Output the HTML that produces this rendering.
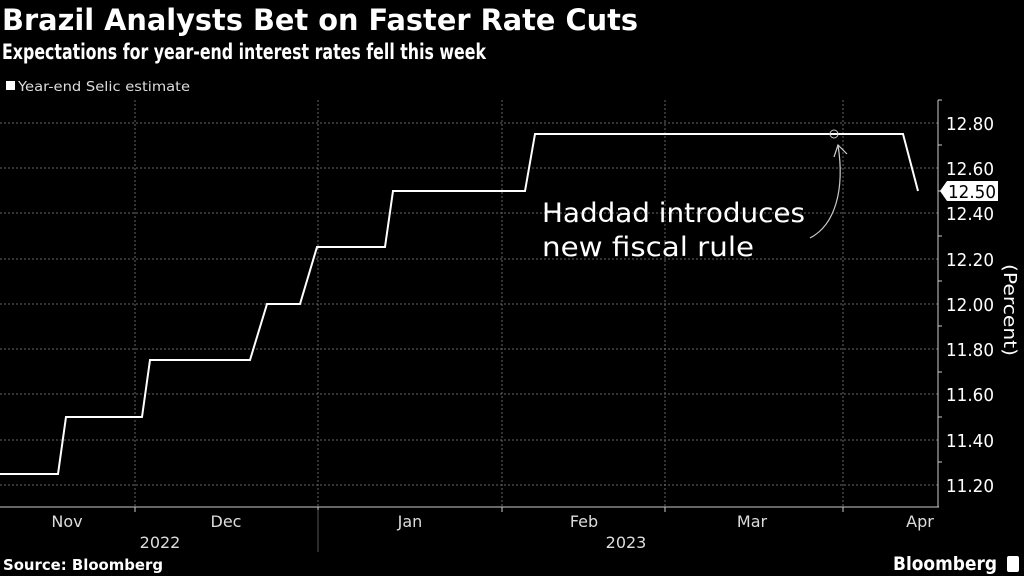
<!DOCTYPE html>
<html><head><style>
body{margin:0;background:#000;width:1024px;height:576px;overflow:hidden;font-family:"DejaVu Sans Condensed","DejaVu Sans","Liberation Sans",sans-serif;color:#fff}
</style></head><body>
<svg width="1024" height="576" xmlns="http://www.w3.org/2000/svg" style="position:absolute;left:0;top:0">
<text x="2" y="30" font-size="29" font-weight="bold" fill="#fff" font-family="DejaVu Sans, sans-serif" textLength="636" lengthAdjust="spacingAndGlyphs">Brazil Analysts Bet on Faster Rate Cuts</text>
<text x="2" y="59" font-size="21" font-weight="bold" fill="#fff" font-family="DejaVu Sans, sans-serif" textLength="484" lengthAdjust="spacingAndGlyphs">Expectations for year-end interest rates fell this week</text>
<rect x="6" y="81" width="9" height="9" fill="#fff"/>
<text x="18" y="91" font-size="13" fill="#ddd" font-family="DejaVu Sans, sans-serif" textLength="172" lengthAdjust="spacingAndGlyphs">Year-end Selic estimate</text>
<g stroke="#666" stroke-width="1" stroke-dasharray="2,2">
<line x1="0" y1="123" x2="938" y2="123"/><line x1="0" y1="168" x2="938" y2="168"/><line x1="0" y1="213" x2="938" y2="213"/><line x1="0" y1="259" x2="938" y2="259"/><line x1="0" y1="304" x2="938" y2="304"/><line x1="0" y1="349" x2="938" y2="349"/><line x1="0" y1="394" x2="938" y2="394"/><line x1="0" y1="440" x2="938" y2="440"/><line x1="0" y1="485" x2="938" y2="485"/>
<line x1="135" y1="100" x2="135" y2="507"/><line x1="318" y1="100" x2="318" y2="507"/><line x1="502" y1="100" x2="502" y2="507"/><line x1="665" y1="100" x2="665" y2="507"/><line x1="843" y1="100" x2="843" y2="507"/>
</g>
<line x1="0" y1="507" x2="939" y2="507" stroke="#ccc"/>
<line x1="938" y1="100" x2="938" y2="507" stroke="#ccc"/>
<line x1="938" y1="100" x2="942" y2="100" stroke="#ccc"/>
<g stroke="#ccc"><line x1="938" y1="145" x2="942" y2="145"/><line x1="938" y1="191" x2="942" y2="191"/><line x1="938" y1="236" x2="942" y2="236"/><line x1="938" y1="281" x2="942" y2="281"/><line x1="938" y1="326" x2="942" y2="326"/><line x1="938" y1="372" x2="942" y2="372"/><line x1="938" y1="417" x2="942" y2="417"/><line x1="938" y1="462" x2="942" y2="462"/>
<line x1="135" y1="507" x2="135" y2="512"/><line x1="318" y1="507" x2="318" y2="512"/><line x1="502" y1="507" x2="502" y2="512"/><line x1="665" y1="507" x2="665" y2="512"/><line x1="843" y1="507" x2="843" y2="512"/></g>
<g font-size="18" fill="#fff" font-family="DejaVu Sans, sans-serif">
<text x="946" y="130" textLength="48" lengthAdjust="spacingAndGlyphs">12.80</text><text x="946" y="175" textLength="48" lengthAdjust="spacingAndGlyphs">12.60</text><text x="946" y="220" textLength="48" lengthAdjust="spacingAndGlyphs">12.40</text><text x="946" y="266" textLength="48" lengthAdjust="spacingAndGlyphs">12.20</text><text x="946" y="311" textLength="48" lengthAdjust="spacingAndGlyphs">12.00</text><text x="946" y="356" textLength="48" lengthAdjust="spacingAndGlyphs">11.80</text><text x="946" y="401" textLength="48" lengthAdjust="spacingAndGlyphs">11.60</text><text x="946" y="447" textLength="48" lengthAdjust="spacingAndGlyphs">11.40</text><text x="946" y="492" textLength="48" lengthAdjust="spacingAndGlyphs">11.20</text>
</g>
<polygon points="940,191 947,181 998,181 998,201 947,201" fill="#fff"/>
<text x="948" y="198" font-size="18" fill="#000" font-family="DejaVu Sans, sans-serif" textLength="48" lengthAdjust="spacingAndGlyphs">12.50</text>
<text transform="translate(1004,310) rotate(90)" font-size="18" fill="#fff" text-anchor="middle" font-family="DejaVu Sans, sans-serif" textLength="92" lengthAdjust="spacingAndGlyphs">(Percent)</text>
<polyline fill="none" stroke="#fff" stroke-width="2" points="0,474 58,474 66,417 142,417 150,360 250,360 267,304 300,304 317,247 385,247 393,191 525,191 535,134 903,134 918,191"/>
<circle cx="834" cy="134" r="4" fill="none" stroke="#ccc"/>
<path d="M810,238 C835,225 845,190 838,145" fill="none" stroke="#ccc" stroke-width="1.2"/>
<path d="M834,157 L838,145 L847,154" fill="none" stroke="#ccc" stroke-width="1.2"/>
<text x="542" y="222" font-size="27" fill="#fff" font-family="DejaVu Sans, sans-serif" textLength="263" lengthAdjust="spacingAndGlyphs">Haddad introduces</text>
<text x="542" y="256" font-size="27" fill="#fff" font-family="DejaVu Sans, sans-serif" textLength="212" lengthAdjust="spacingAndGlyphs">new fiscal rule</text>
<g font-size="16" fill="#ddd" font-family="DejaVu Sans, sans-serif" text-anchor="middle">
<text x="67" y="527">Nov</text><text x="226" y="527">Dec</text><text x="410" y="527">Jan</text><text x="584" y="527">Feb</text><text x="752" y="527">Mar</text><text x="920" y="527">Apr</text>
<text x="160" y="548">2022</text><text x="626" y="548">2023</text>
</g>
<line x1="318" y1="510" x2="318" y2="552" stroke="#555"/>
<text x="3" y="570" font-size="15" font-weight="bold" fill="#fff" font-family="DejaVu Sans, sans-serif" textLength="160" lengthAdjust="spacingAndGlyphs">Source: Bloomberg</text>
<text x="893" y="570" font-size="19" font-weight="bold" fill="#fff" font-family="DejaVu Sans, sans-serif" textLength="104" lengthAdjust="spacingAndGlyphs">Bloomberg</text>
<rect x="1007" y="556" width="12" height="16" rx="2" fill="#fff"/>
</svg>
</body></html>
